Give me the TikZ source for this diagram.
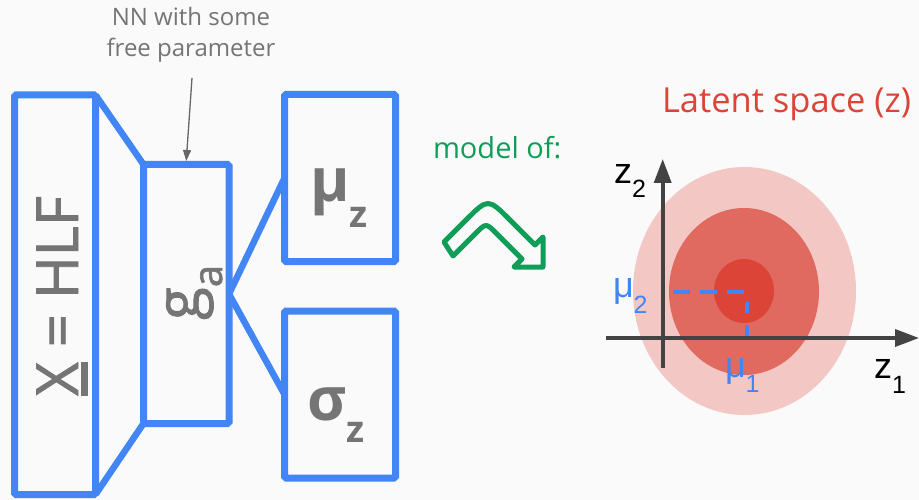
\documentclass[tikz,border=0pt]{standalone}
\usepackage{fontspec}
\setmainfont{Open Sans}
\newfontfamily\medf[FakeBold=1.6]{Open Sans}
\newfontfamily\arialf{Liberation Sans}
\usetikzlibrary{arrows.meta}
\definecolor{gblue}{HTML}{4285F4}
\definecolor{ggray}{HTML}{757575}
\definecolor{pgray}{HTML}{666666}
\definecolor{ggreen}{HTML}{0F9D58}
\definecolor{gred}{HTML}{DB4437}
\definecolor{ellA}{HTML}{F3C7C3}
\definecolor{ellB}{HTML}{E06A5F}
\definecolor{ellC}{HTML}{DB4437}
\definecolor{axisc}{HTML}{434343}
\definecolor{bgc}{HTML}{FAFAFA}
\newcommand\ulX{\setbox0\hbox{X}\rlap{\rule[-10pt]{\wd0}{7.5pt}}X}
\begin{document}
\begin{tikzpicture}[x=1pt,y=-1pt,
  bbox/.style={draw=gblue, line width=7pt, rounded corners=1.5pt, inner sep=0pt, outer sep=0pt},
  conn/.style={draw=gblue, line width=6.5pt},
  lbl/.style={inner sep=0pt, outer sep=0pt},
  pointer/.style={draw=pgray, line width=1.3pt, -{Triangle[length=11pt,width=8pt]}},
  axisline/.style={draw=axisc, line width=3.6pt, -{Triangle[length=24pt,width=17pt]}},
  mudash/.style={draw=gblue, line width=3.3pt}
]
\useasboundingbox (0,0) rectangle (919,500);
\fill[bgc] (0,0) rectangle (919,500);
\shade[top color=black!8, bottom color=bgc] (0,0) rectangle (919,-6);

% boxes
\node[bbox, minimum width=81pt, minimum height=399.5pt] (xbox) at (55,294.75) {};
\node[bbox, minimum width=85.5pt, minimum height=259pt] (gbox) at (186.25,294) {};
\node[bbox, minimum width=111pt, minimum height=167pt] (mubox) at (340,178) {};
\node[bbox, minimum width=111pt, minimum height=167pt] (sigbox) at (340,394.5) {};

% connectors
\draw[conn] (xbox.north east) -- (gbox.north west);
\draw[conn] (gbox.south west) -- (xbox.south east);
\draw[conn] (gbox.east) -- (mubox.west);
\draw[conn] (gbox.east) -- (sigbox.west);

% box labels
\node[lbl, rotate=90, anchor=base, text=ggray, font=\medf\fontsize{58}{58}\selectfont] (xlabel) at (78,296) {\ulX{} = HLF};
\node[lbl, rotate=90, anchor=base west, text=ggray, font=\medf\fontsize{60}{60}\selectfont] (glabel) at (199,320) {g\raisebox{-23pt}{\fontsize{40}{40}\selectfont a}};
\node[lbl, anchor=base west, text=ggray, font=\fontsize{60}{60}\selectfont\bfseries] (mulabel) at (310,201) {μ\raisebox{-26pt}{\fontsize{37}{37}\selectfont\bfseries z}};
\node[lbl, anchor=base west, text=ggray, font=\fontsize{60}{60}\selectfont\bfseries] (siglabel) at (307,420) {σ\raisebox{-22pt}{\fontsize{37}{37}\selectfont\bfseries z}};

% annotation
\node[lbl, anchor=base, text=ggray, font=\fontsize{24}{24}\selectfont] (nn1) at (191,26) {NN with some};
\node[lbl, anchor=base, text=ggray, font=\fontsize{24}{24}\selectfont] (nn2) at (191,57) {free parameter};
\coordinate (pstart) at (192,78);
\draw[pointer] (pstart) -- ([yshift=3.5pt]gbox.north);

% model of
\node[lbl, anchor=base west, text=ggreen, font=\fontsize{29}{29}\selectfont] (model) at (433,159) {model of:};
\draw[draw=ggreen, line width=5pt, line join=round]
  (444,242) -- (466,220) .. controls (488,198) .. (510,220) -- (535,245)
  -- (543,237) -- (543,267) -- (514,267) -- (522,259)
  -- (496,233) .. controls (486,223) .. (476,233) -- (453,256) -- cycle;

% latent space
\node[lbl, anchor=base west, text=gred, font=\fontsize{34.5}{34.5}\selectfont] (latent) at (662,113) {Latent space (z)};
\fill[ellA] (744.5,291) ellipse [x radius=111.5, y radius=124];
\fill[ellB] (744,291.5) ellipse [x radius=75, y radius=83.5];
\fill[ellC] (744,291) ellipse [x radius=30, y radius=32];

\coordinate (ybot) at (662.7,368);
\coordinate (ytip) at (662.7,159);
\coordinate (xleft) at (606,338);
\coordinate (xtip) at (919,338);
\draw[axisline] (ybot) -- (ytip);
\draw[axisline] (xleft) -- (xtip);

\coordinate (mtwo) at (673,292);
\coordinate (mcorner) at (747,292);
\coordinate (mone) at (747,339);
\draw[mudash, dash pattern=on 17pt off 10pt] (mtwo) -- (mcorner);
\draw[mudash, dash pattern=on 11pt off 12pt, dash phase=13pt] (mcorner) -- (mone);

\node[lbl, anchor=base west, font=\arialf\fontsize{36}{36}\selectfont] (ztwo) at (614,183) {z\raisebox{-14pt}{\fontsize{25}{25}\selectfont 2}};
\node[lbl, anchor=base west, font=\arialf\fontsize{36}{36}\selectfont] (zone) at (874,378) {z\raisebox{-15pt}{\fontsize{25}{25}\selectfont 1}};
\node[lbl, anchor=base west, text=gblue, font=\arialf\fontsize{36}{36}\selectfont] (mutwo) at (613,297) {μ\raisebox{-16pt}{\fontsize{25}{25}\selectfont 2}};
\node[lbl, anchor=base west, text=gblue, font=\arialf\fontsize{36}{36}\selectfont] (muone) at (725,377) {μ\raisebox{-15pt}{\fontsize{25}{25}\selectfont 1}};
\end{tikzpicture}
\end{document}
